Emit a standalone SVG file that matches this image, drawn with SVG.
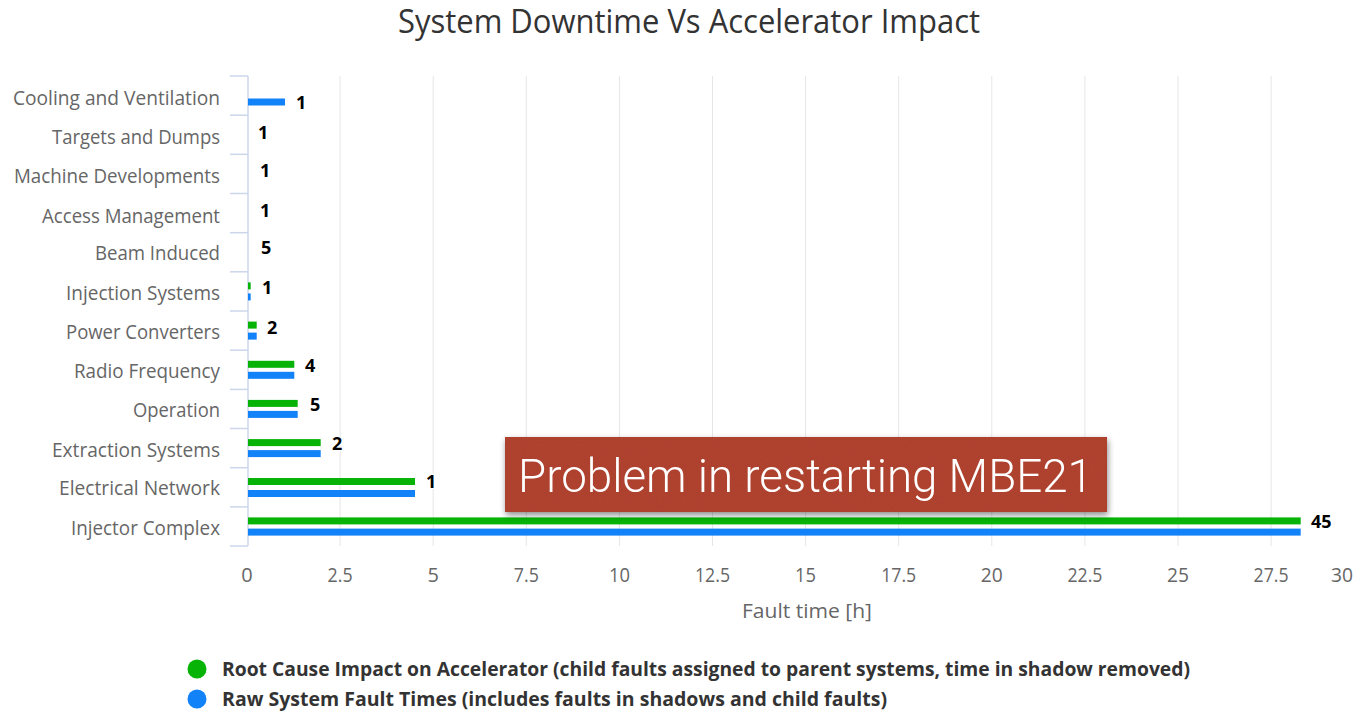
<svg xmlns="http://www.w3.org/2000/svg" width="1364" height="717" viewBox="0 0 1364 717">
  <style>
    .title { font-family: "Open Sans", "Noto Sans", sans-serif; font-size: 32px; fill: #333333; }
    .cat { font-family: "Open Sans", "Noto Sans", sans-serif; font-size: 20px; fill: #666666; text-anchor: end; }
    .xlab { font-family: "Open Sans", "Noto Sans", sans-serif; font-size: 20px; fill: #666666; text-anchor: middle; }
    .dl { font-family: "Open Sans", "Noto Sans", sans-serif; font-size: 18px; font-weight: bold; fill: #000000; stroke: #ffffff; stroke-width: 2px; paint-order: stroke; }
    .leg { font-family: "Open Sans", "Noto Sans", sans-serif; font-size: 19.5px; font-weight: bold; fill: #333333; }
    .grid { stroke: #e6e6e6; stroke-width: 1; }
    .axis { stroke: #ccd6eb; stroke-width: 1.5; }
    .g { fill: #06b306; }
    .b { fill: #1282f8; }
    .note { font-family: "Roboto", "Liberation Sans", sans-serif; font-weight: 300; font-size: 46px; fill: #ffffff; }
  </style>
  <defs>
    <filter id="shadow" x="-5%" y="-20%" width="110%" height="150%">
      <feGaussianBlur in="SourceAlpha" stdDeviation="3"/>
      <feOffset dx="1" dy="3" result="blur"/>
      <feComponentTransfer in="blur" result="soft">
        <feFuncA type="linear" slope="0.45"/>
      </feComponentTransfer>
      <feMerge>
        <feMergeNode in="soft"/>
        <feMergeNode in="SourceGraphic"/>
      </feMerge>
    </filter>
    <filter id="grain" x="0" y="0" width="100%" height="100%">
      <feTurbulence type="fractalNoise" baseFrequency="0.9" numOctaves="2" seed="4" result="noise"/>
      <feColorMatrix in="noise" type="matrix" values="0 0 0 0 0  0 0 0 0 0  0 0 0 0 0  0 0 0 0.12 0" result="dark"/>
      <feComposite in="dark" in2="SourceGraphic" operator="in" result="tex"/>
      <feMerge>
        <feMergeNode in="SourceGraphic"/>
        <feMergeNode in="tex"/>
      </feMerge>
    </filter>
  </defs>

  <rect width="1364" height="717" fill="#ffffff"/>

  <text class="title" x="398" y="33" textLength="582" lengthAdjust="spacingAndGlyphs">System Downtime Vs Accelerator Impact</text>

  <!-- vertical grid lines every 2.5 h -->
  <g id="grid">
    <line class="grid" x1="340.1" y1="76" x2="340.1" y2="546"/>
    <line class="grid" x1="433.2" y1="76" x2="433.2" y2="546"/>
    <line class="grid" x1="526.3" y1="76" x2="526.3" y2="546"/>
    <line class="grid" x1="619.4" y1="76" x2="619.4" y2="546"/>
    <line class="grid" x1="712.5" y1="76" x2="712.5" y2="546"/>
    <line class="grid" x1="805.6" y1="76" x2="805.6" y2="546"/>
    <line class="grid" x1="898.7" y1="76" x2="898.7" y2="546"/>
    <line class="grid" x1="991.8" y1="76" x2="991.8" y2="546"/>
    <line class="grid" x1="1084.9" y1="76" x2="1084.9" y2="546"/>
    <line class="grid" x1="1178" y1="76" x2="1178" y2="546"/>
    <line class="grid" x1="1271.1" y1="76" x2="1271.1" y2="546"/>
  </g>

  <!-- category axis with tick marks -->
  <g id="y-axis">
    <line class="axis" x1="248" y1="76" x2="248" y2="546"/>
    <line class="axis" x1="230" y1="76" x2="248" y2="76"/>
    <line class="axis" x1="230" y1="115.2" x2="248" y2="115.2"/>
    <line class="axis" x1="230" y1="154.3" x2="248" y2="154.3"/>
    <line class="axis" x1="230" y1="193.5" x2="248" y2="193.5"/>
    <line class="axis" x1="230" y1="232.7" x2="248" y2="232.7"/>
    <line class="axis" x1="230" y1="271.8" x2="248" y2="271.8"/>
    <line class="axis" x1="230" y1="311" x2="248" y2="311"/>
    <line class="axis" x1="230" y1="350.2" x2="248" y2="350.2"/>
    <line class="axis" x1="230" y1="389.4" x2="248" y2="389.4"/>
    <line class="axis" x1="230" y1="428.5" x2="248" y2="428.5"/>
    <line class="axis" x1="230" y1="467.7" x2="248" y2="467.7"/>
    <line class="axis" x1="230" y1="506.9" x2="248" y2="506.9"/>
    <line class="axis" x1="230" y1="546" x2="248" y2="546"/>
  </g>

  <g id="categories">
    <text class="cat" x="220" y="105" textLength="207" lengthAdjust="spacingAndGlyphs">Cooling and Ventilation</text>
    <text class="cat" x="220" y="144" textLength="168" lengthAdjust="spacingAndGlyphs">Targets and Dumps</text>
    <text class="cat" x="220" y="183" textLength="206" lengthAdjust="spacingAndGlyphs">Machine Developments</text>
    <text class="cat" x="220" y="223" textLength="178" lengthAdjust="spacingAndGlyphs">Access Management</text>
    <text class="cat" x="220" y="260" textLength="125" lengthAdjust="spacingAndGlyphs">Beam Induced</text>
    <text class="cat" x="220" y="300" textLength="154" lengthAdjust="spacingAndGlyphs">Injection Systems</text>
    <text class="cat" x="220" y="339" textLength="154" lengthAdjust="spacingAndGlyphs">Power Converters</text>
    <text class="cat" x="220" y="378" textLength="146" lengthAdjust="spacingAndGlyphs">Radio Frequency</text>
    <text class="cat" x="220" y="417" textLength="87" lengthAdjust="spacingAndGlyphs">Operation</text>
    <text class="cat" x="220" y="457" textLength="168" lengthAdjust="spacingAndGlyphs">Extraction Systems</text>
    <text class="cat" x="220" y="495" textLength="161" lengthAdjust="spacingAndGlyphs">Electrical Network</text>
    <text class="cat" x="220" y="535" textLength="149" lengthAdjust="spacingAndGlyphs">Injector Complex</text>
  </g>

  <!-- root cause series (green) -->
  <g id="series-root-cause">
    <rect class="g" x="248" y="282.4" width="2.7" height="7"/>
    <rect class="g" x="248" y="321.6" width="8.7" height="7"/>
    <rect class="g" x="248" y="360.8" width="46.3" height="7"/>
    <rect class="g" x="248" y="399.9" width="49.7" height="7"/>
    <rect class="g" x="248" y="439.1" width="72.7" height="7"/>
    <rect class="g" x="248" y="478" width="167" height="7"/>
    <rect class="g" x="248" y="517.4" width="1052.7" height="7"/>
  </g>

  <!-- raw fault time series (blue) -->
  <g id="series-raw">
    <rect class="b" x="248" y="98.5" width="37" height="7"/>
    <rect class="b" x="248" y="293.4" width="2.7" height="7"/>
    <rect class="b" x="248" y="332.6" width="8.7" height="7"/>
    <rect class="b" x="248" y="371.8" width="46.3" height="7"/>
    <rect class="b" x="248" y="410.9" width="49.7" height="7"/>
    <rect class="b" x="248" y="450.1" width="72.7" height="7"/>
    <rect class="b" x="248" y="490" width="167" height="7"/>
    <rect class="b" x="248" y="528.6" width="1052.7" height="7"/>
  </g>

  <g id="data-labels">
    <text class="dl" x="296" y="109">1</text>
    <text class="dl" x="258" y="139">1</text>
    <text class="dl" x="260" y="177">1</text>
    <text class="dl" x="260" y="217">1</text>
    <text class="dl" x="261" y="254">5</text>
    <text class="dl" x="262" y="294">1</text>
    <text class="dl" x="267" y="334">2</text>
    <text class="dl" x="305" y="372">4</text>
    <text class="dl" x="310" y="411">5</text>
    <text class="dl" x="332" y="450">2</text>
    <text class="dl" x="426" y="488">1</text>
    <text class="dl" x="1311" y="528">45</text>
  </g>

  <g id="x-axis">
    <text class="xlab" x="247" y="582">0</text>
    <text class="xlab" x="340.1" y="582" textLength="25" lengthAdjust="spacingAndGlyphs">2.5</text>
    <text class="xlab" x="433.2" y="582">5</text>
    <text class="xlab" x="526.3" y="582" textLength="25" lengthAdjust="spacingAndGlyphs">7.5</text>
    <text class="xlab" x="619.4" y="582" textLength="21" lengthAdjust="spacingAndGlyphs">10</text>
    <text class="xlab" x="712.5" y="582" textLength="35" lengthAdjust="spacingAndGlyphs">12.5</text>
    <text class="xlab" x="805.6" y="582" textLength="21" lengthAdjust="spacingAndGlyphs">15</text>
    <text class="xlab" x="898.7" y="582" textLength="35" lengthAdjust="spacingAndGlyphs">17.5</text>
    <text class="xlab" x="991.8" y="582" textLength="22" lengthAdjust="spacingAndGlyphs">20</text>
    <text class="xlab" x="1084.9" y="582" textLength="35" lengthAdjust="spacingAndGlyphs">22.5</text>
    <text class="xlab" x="1178" y="582" textLength="22" lengthAdjust="spacingAndGlyphs">25</text>
    <text class="xlab" x="1271.1" y="582" textLength="35" lengthAdjust="spacingAndGlyphs">27.5</text>
    <text class="xlab" x="1342" y="582" text-anchor="start" textLength="22" lengthAdjust="spacingAndGlyphs">30</text>
    <text class="xlab" x="807" y="618" textLength="130" lengthAdjust="spacingAndGlyphs">Fault time [h]</text>
  </g>

  <!-- callout note -->
  <g id="note" filter="url(#shadow)">
    <rect x="505" y="437" width="602" height="75" fill="#b34533" filter="url(#grain)"/>
    <text class="note" x="518" y="492" textLength="575" lengthAdjust="spacingAndGlyphs">Problem in restarting MBE21</text>
  </g>

  <g id="legend">
    <circle cx="197" cy="669" r="9.5" fill="#06b306"/>
    <text class="leg" x="222" y="676" textLength="968" lengthAdjust="spacingAndGlyphs">Root Cause Impact on Accelerator (child faults assigned to parent systems, time in shadow removed)</text>
    <circle cx="197" cy="699" r="9.5" fill="#1282f8"/>
    <text class="leg" x="222" y="706" textLength="665" lengthAdjust="spacingAndGlyphs">Raw System Fault Times (includes faults in shadows and child faults)</text>
  </g>
</svg>
